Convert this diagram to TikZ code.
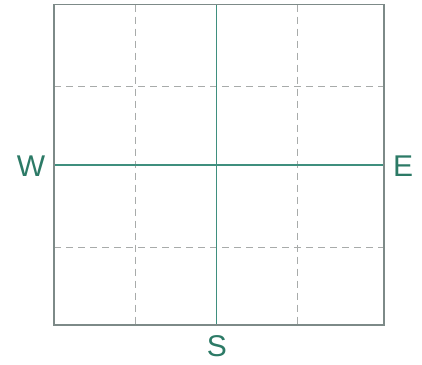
\documentclass[tikz,border=0pt]{standalone}
\usepackage{fontspec}
\setmainfont{Liberation Sans}
\definecolor{bordc}{HTML}{7D8A88}
\definecolor{midc}{HTML}{3F8F7E}
\definecolor{dashc}{HTML}{A8ABAA}
\definecolor{txtc}{HTML}{2C7A66}
\begin{document}
\begin{tikzpicture}[x=1pt,y=-1pt,
  border/.style={draw=bordc,line width=1.6pt},
  midline/.style={draw=midc,line width=1.4pt},
  gridline/.style={draw=dashc,line width=1pt,dash pattern=on 7pt off 5pt},
  dirlabel/.style={text=txtc,font=\fontsize{30}{30}\selectfont,inner sep=0pt}]
\useasboundingbox (0,0) rectangle (422,364);
\coordinate (tl) at (54,4.5);
\coordinate (br) at (384,325);
\coordinate (nm) at (216.5,4.5);
\coordinate (sm) at (216.5,325);
\coordinate (wm) at (54,165);
\coordinate (em) at (384,165);
\coordinate (d1t) at (135,4.5);
\coordinate (d1b) at (135,325);
\coordinate (d2t) at (297.5,4.5);
\coordinate (d2b) at (297.5,325);
\coordinate (d3l) at (54,86);
\coordinate (d3r) at (384,86);
\coordinate (d4l) at (54,247);
\coordinate (d4r) at (384,247);
\draw[gridline] (d1t) -- (d1b);
\draw[gridline] (d2t) -- (d2b);
\draw[gridline] (d3l) -- (d3r);
\draw[gridline] (d4l) -- (d4r);
\draw[midline] (nm) -- (sm);
\draw[midline] (wm) -- (em);
\draw[border] (tl) rectangle (br);
\node[dirlabel] (W) at (31,166) {W};
\node[dirlabel] (E) at (403,166) {E};
\node[dirlabel] (S) at (217,346) {S};
\end{tikzpicture}
\end{document}
